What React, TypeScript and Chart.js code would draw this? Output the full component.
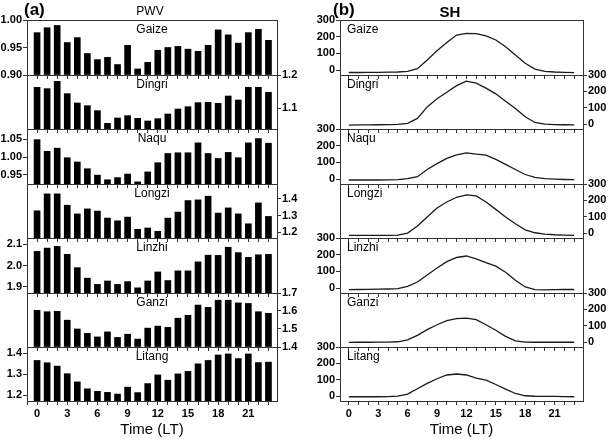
import React, { useEffect, useRef } from 'react';
import { Chart, registerables } from 'chart.js';

Chart.register(...registerables);

const HOURS = [0, 1, 2, 3, 4, 5, 6, 7, 8, 9, 10, 11, 12, 13, 14, 15, 16, 17, 18, 19, 20, 21, 22, 23];
const STATIONS = ['Gaize', 'Dingri', 'Naqu', 'Longzi', 'Linzhi', 'Ganzi', 'Litang'];

// PWV hourly values (panel a)
const PWV_GAIZE = [0.977, 0.986, 0.990, 0.959, 0.968, 0.939, 0.928, 0.932, 0.919, 0.954, 0.911, 0.923, 0.945, 0.950, 0.952, 0.947, 0.943, 0.954, 0.982, 0.973, 0.958, 0.977, 0.983, 0.963];
const PWV_DINGRI = [1.163, 1.159, 1.181, 1.144, 1.116, 1.108, 1.093, 1.055, 1.071, 1.078, 1.070, 1.062, 1.069, 1.083, 1.098, 1.105, 1.117, 1.118, 1.115, 1.137, 1.125, 1.163, 1.163, 1.148];
const PWV_NAQU = [1.049, 1.016, 1.025, 0.998, 0.986, 0.967, 0.949, 0.936, 0.942, 0.952, 0.930, 0.958, 0.984, 1.010, 1.012, 1.012, 1.040, 1.010, 0.996, 1.013, 0.998, 1.040, 1.052, 1.039];
const PWV_LONGZI = [1.329, 1.430, 1.430, 1.362, 1.310, 1.340, 1.327, 1.285, 1.269, 1.291, 1.218, 1.226, 1.206, 1.285, 1.321, 1.390, 1.394, 1.416, 1.315, 1.346, 1.310, 1.251, 1.376, 1.295];
const PWV_LINZHI = [2.066, 2.081, 2.089, 2.052, 1.990, 1.941, 1.912, 1.928, 1.912, 1.925, 1.896, 1.928, 1.970, 1.930, 1.975, 1.975, 2.017, 2.048, 2.047, 2.085, 2.060, 2.038, 2.050, 2.052];
const PWV_GANZI = [1.604, 1.596, 1.598, 1.549, 1.500, 1.476, 1.456, 1.484, 1.453, 1.471, 1.444, 1.505, 1.516, 1.509, 1.560, 1.576, 1.633, 1.620, 1.660, 1.660, 1.645, 1.642, 1.596, 1.587];
const PWV_LITANG = [1.366, 1.355, 1.339, 1.303, 1.264, 1.231, 1.219, 1.214, 1.206, 1.239, 1.213, 1.256, 1.297, 1.272, 1.302, 1.314, 1.350, 1.366, 1.392, 1.397, 1.375, 1.397, 1.356, 1.358];

// SH hourly values (panel b)
const SH_GAIZE = [-15, -15, -14, -14, -13, -12, -8, 8, 60, 115, 165, 210, 220, 218, 205, 180, 140, 90, 40, 5, -8, -12, -14, -16];
const SH_DINGRI = [-6, -5, -5, -4, -3, -2, 5, 35, 105, 155, 195, 235, 262, 250, 220, 185, 140, 95, 45, 10, 0, -3, -4, -5];
const SH_NAQU = [-6, -6, -6, -6, -5, -4, 2, 14, 57, 92, 124, 145, 157, 149, 143, 118, 88, 57, 27, 10, 2, -1, -3, -4];
const SH_LONGZI = [-14, -14, -14, -14, -14, -13, 0, 43, 98, 153, 190, 219, 233, 227, 190, 145, 98, 57, 20, 2, -6, -10, -12, -14];
const SH_LINZHI = [-10, -9, -8, -7, -6, -4, 10, 36, 78, 120, 158, 183, 192, 175, 152, 131, 95, 46, 6, -10, -11, -10, -9, -9];
const SH_GANZI = [-2, -1, -1, 0, 0, 2, 14, 41, 76, 106, 131, 143, 147, 137, 106, 72, 35, 8, 0, -1, -1, -1, -1, -1];
const SH_LITANG = [-4, -4, -4, -4, -3, 0, 12, 45, 78, 106, 129, 135, 129, 110, 98, 71, 43, 16, 2, -1, -2, -2, -3, -4];

const PWV_SERIES = [PWV_GAIZE, PWV_DINGRI, PWV_NAQU, PWV_LONGZI, PWV_LINZHI, PWV_GANZI, PWV_LITANG];
const SH_SERIES = [SH_GAIZE, SH_DINGRI, SH_NAQU, SH_LONGZI, SH_LINZHI, SH_GANZI, SH_LITANG];

// axis ranges
const PWV_MIN = [0.90, 1.038, 0.924, 1.166, 1.872, 1.40, 1.173];
const PWV_MAX = [1.00, 1.20, 1.079, 1.489, 2.128, 1.70, 1.43];
const PWV_STEP = [0.05, 0.1, 0.05, 0.1, 0.1, 0.1, 0.1];
const PWV_DEC = [2, 1, 2, 1, 1, 1, 1];
const SH_MIN = -30;
const SH_MAX = 300;
const SH_STEP = 100;

const FONT = '"Liberation Sans", Arial, Helvetica, sans-serif';
const TOPS = [20, 75, 129, 184, 238, 293, 347, 401];
const FIG_W = 609;
const FIG_H = 439;

const framePlugin = {
  id: 'frame',
  afterDatasetsDraw(chart: any, _args: any, opts: any) {
    const { ctx, chartArea } = chart;
    const { left, top, right, bottom } = chartArea;
    ctx.save();
    ctx.strokeStyle = '#333';
    ctx.lineWidth = 1;
    const l = Math.round(left) + 0.5;
    const t = Math.round(top) + 0.5;
    ctx.strokeRect(l, t, Math.round(right) - Math.round(left), Math.round(bottom) - Math.round(top));
    ctx.fillStyle = '#000';
    ctx.font = `12px ${FONT}`;
    ctx.textBaseline = 'middle';
    ctx.textAlign = opts.align;
    const x = opts.align === 'center' ? (left + right) / 2 : left + 7;
    ctx.fillText(opts.text, x, top + 10);
    ctx.restore();
  },
};

type Spec = {
  kind: 'bar' | 'line';
  values: number[];
  name: string;
  ymin: number;
  ymax: number;
  step: number;
  dec: number;
  side: 'left' | 'right';
  index: number;
  canvasLeft: number;
  canvasW: number;
  plotL: number;
  plotR: number;
  xmin: number;
  xmax: number;
  labelAlign: 'center' | 'left';
};

function Panel({ spec }: { spec: Spec }) {
  const ref = useRef<HTMLCanvasElement | null>(null);
  const last = spec.index === 6;
  const top = TOPS[spec.index];
  const bottom = TOPS[spec.index + 1];
  const cTop = top - 10;
  const cH = last ? FIG_H - cTop : bottom - top + 20;
  const xH = last ? cH - 10 - (bottom - top) : 4;
  const padBottom = last ? 0 : 6;

  useEffect(() => {
    const yW = spec.side === 'left' ? spec.plotL : spec.canvasW - spec.plotR;
    const dataset: any =
      spec.kind === 'bar'
        ? { data: spec.values, backgroundColor: '#000', borderWidth: 0, barThickness: 6, base: spec.ymin }
        : { data: spec.values, borderColor: '#1a1a1a', borderWidth: 1.3, pointRadius: 0, tension: 0, fill: false };
    const tickFont = { family: FONT, size: 11, weight: 'bold' as const };
    const chart = new Chart(ref.current as HTMLCanvasElement, {
      type: spec.kind,
      data: { labels: HOURS, datasets: [dataset] },
      options: {
        responsive: false,
        animation: false,
        events: [],
        layout: {
          padding: {
            top: 10,
            bottom: padBottom,
            left: spec.side === 'left' ? 0 : spec.plotL,
            right: spec.side === 'right' ? 0 : spec.canvasW - spec.plotR,
          },
        },
        plugins: {
          legend: { display: false },
          tooltip: { enabled: false },
          frame: { text: spec.name, align: spec.labelAlign },
        } as any,
        scales: {
          x: {
            type: 'linear',
            min: spec.xmin,
            max: spec.xmax,
            offset: false,
            grid: { offset: false, drawOnChartArea: false, drawTicks: true, tickLength: 4, color: '#333' },
            border: { display: false },
            ticks: {
              display: last,
              stepSize: 1,
              includeBounds: false,
              autoSkip: false,
              maxRotation: 0,
              minRotation: 0,
              padding: 2,
              color: '#000',
              font: tickFont,
              callback: (v: any) => (Number(v) % 3 === 0 ? String(v) : ''),
            },
            title: {
              display: last,
              text: 'Time (LT)',
              color: '#000',
              font: { family: FONT, size: 15 },
              padding: { top: 0, bottom: 0 },
            },
            afterFit: (s: any) => {
              s.height = xH;
            },
          },
          y: {
            type: 'linear',
            position: spec.side,
            min: spec.ymin,
            max: spec.ymax,
            beginAtZero: false,
            grid: { drawOnChartArea: false, drawTicks: true, tickLength: 4, color: '#333' },
            border: { display: false },
            ticks: {
              stepSize: spec.step,
              includeBounds: false,
              autoSkip: false,
              padding: 1,
              color: '#000',
              font: tickFont,
              callback: (v: any) => Number(v).toFixed(spec.dec),
            },
            afterFit: (s: any) => {
              s.width = yW;
            },
          },
        },
      } as any,
      plugins: [framePlugin],
    });
    return () => chart.destroy();
  }, []);

  return (
    <canvas
      ref={ref}
      width={spec.canvasW}
      height={cH}
      style={{ position: 'absolute', left: spec.canvasLeft, top: cTop, width: spec.canvasW, height: cH }}
    />
  );
}

const textStyle = (extra: React.CSSProperties): React.CSSProperties => ({
  position: 'absolute',
  fontFamily: FONT,
  color: '#000',
  whiteSpace: 'nowrap',
  lineHeight: 1,
  ...extra,
});

export default function App() {
  const specs: Spec[] = [];
  STATIONS.forEach((name, i) => {
    specs.push({
      kind: 'bar',
      values: PWV_SERIES[i],
      name,
      ymin: PWV_MIN[i],
      ymax: PWV_MAX[i],
      step: PWV_STEP[i],
      dec: PWV_DEC[i],
      side: i % 2 === 0 ? 'left' : 'right',
      index: i,
      canvasLeft: 0,
      canvasW: 300,
      plotL: 27,
      plotR: 277,
      xmin: -1,
      xmax: 23.85,
      labelAlign: 'center',
    });
    specs.push({
      kind: 'line',
      values: SH_SERIES[i],
      name,
      ymin: SH_MIN,
      ymax: SH_MAX,
      step: SH_STEP,
      dec: 0,
      side: i % 2 === 0 ? 'left' : 'right',
      index: i,
      canvasLeft: 300,
      canvasW: 309,
      plotL: 40,
      plotR: 283,
      xmin: -0.9,
      xmax: 23.9,
      labelAlign: 'left',
    });
  });

  return (
    <div style={{ position: 'absolute', left: 0, top: 0, width: FIG_W, height: FIG_H, background: '#fff', overflow: 'hidden' }}>
      {specs.map((s, k) => (
        <Panel key={k} spec={s} />
      ))}
      <div style={textStyle({ left: 24, top: 1, fontSize: 17, fontWeight: 'bold' })}>(a)</div>
      <div style={textStyle({ left: 150, top: 5, fontSize: 12, transform: 'translateX(-50%)' })}>PWV</div>
      <div style={textStyle({ left: 333, top: 1, fontSize: 17, fontWeight: 'bold' })}>(b)</div>
      <div style={textStyle({ left: 450, top: 4, fontSize: 15, fontWeight: 'bold', transform: 'translateX(-50%)' })}>SH</div>
    </div>
  );
}
